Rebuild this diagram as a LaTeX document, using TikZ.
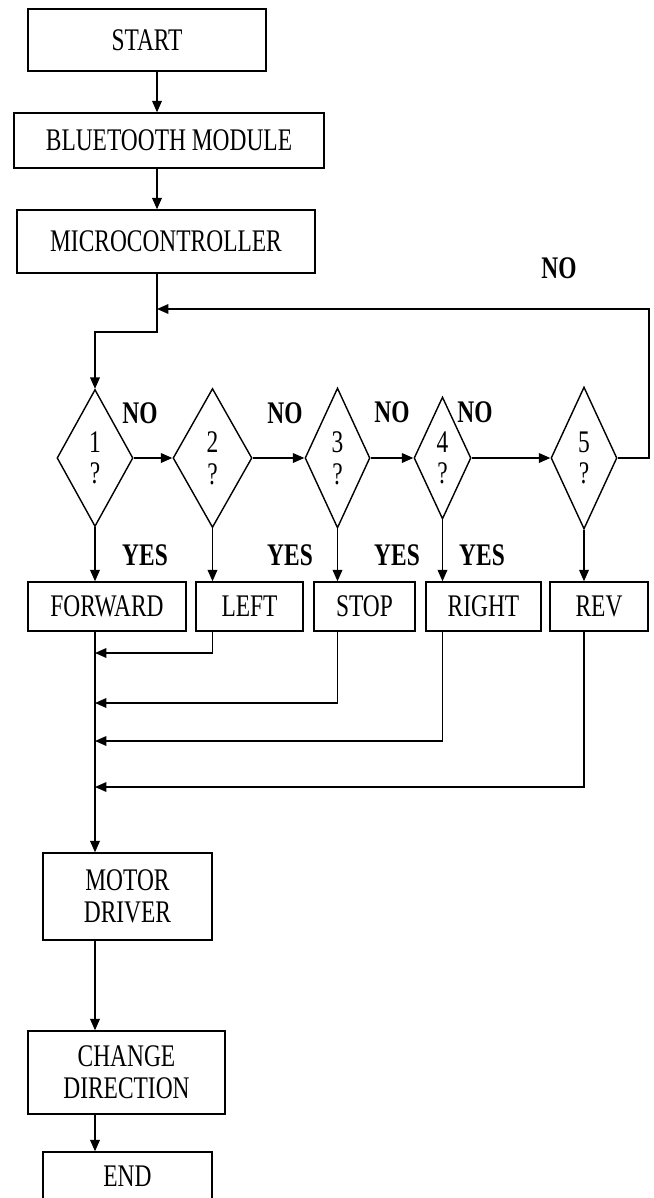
\documentclass[tikz,border=0pt]{standalone}
\usepackage{fontspec}
\setmainfont{Liberation Serif}[FakeStretch=0.745]
\usetikzlibrary{shapes.geometric,arrows.meta}
\begin{document}
\begin{tikzpicture}[every node/.style={font=\fontsize{17.9}{18}\selectfont},
  box/.style={draw, line width=0.8pt, align=center, inner sep=0pt},
  decide/.style={draw, diamond, aspect=0.4, line width=0.8pt, align=center, inner sep=0pt},
  tag/.style={font=\fontsize{17.9}{18}\selectfont\bfseries},
  wire/.style={line width=0.8pt},
  flow/.style={line width=0.8pt, -{Triangle[length=6.5pt,width=5.5pt]}}]
  \useasboundingbox (0,0) rectangle (13.08,-23.96);

  \node[box, minimum width=4.76cm, minimum height=1.24cm] (start) at (2.94,-0.80) {START};
  \node[box, minimum width=6.20cm, minimum height=1.10cm] (bt) at (3.38,-2.81) {BLUETOOTH MODULE};
  \node[box, minimum width=5.96cm, minimum height=1.26cm] (mcu) at (3.32,-4.83) {MICROCONTROLLER};

  \node[decide, minimum width=1.52cm, minimum height=2.74cm] (d1) at (1.90,-9.16) {1\\?};
  \node[decide, minimum width=1.58cm, minimum height=2.78cm] (d2) at (4.25,-9.16) {2\\?};
  \node[decide, minimum width=1.30cm, minimum height=2.80cm] (d3) at (6.75,-9.16) {3\\?};
  \node[decide, minimum width=1.14cm, minimum height=2.44cm] (d4) at (8.85,-9.16) {4\\?};
  \node[decide, minimum width=1.32cm, minimum height=2.84cm] (d5) at (11.68,-9.16) {5\\?};

  \node[box, minimum width=3.16cm, minimum height=0.98cm] (fwd) at (2.14,-12.13) {FORWARD};
  \node[box, minimum width=2.14cm, minimum height=0.98cm] (left) at (4.99,-12.13) {LEFT};
  \node[box, minimum width=2.02cm, minimum height=0.98cm] (stop) at (7.29,-12.13) {STOP};
  \node[box, minimum width=2.30cm, minimum height=0.98cm] (right) at (9.67,-12.13) {RIGHT};
  \node[box, minimum width=1.96cm, minimum height=0.98cm] (rev) at (11.98,-12.13) {REV};

  \node[box, minimum width=3.38cm, minimum height=1.74cm] (motor) at (2.55,-17.93) {MOTOR\\DRIVER};
  \node[box, minimum width=3.94cm, minimum height=1.66cm] (change) at (2.53,-21.45) {CHANGE\\DIRECTION};
  \node[box, minimum width=3.38cm, minimum height=0.96cm] (end) at (2.55,-23.52) {END};

  \node[tag] (no1) at (2.80,-8.26) {NO};
  \node[tag] (no2) at (5.70,-8.26) {NO};
  \node[tag] (no3) at (7.84,-8.24) {NO};
  \node[tag] (no4) at (9.50,-8.24) {NO};
  \node[tag] (no5) at (11.18,-5.36) {NO};
  \node[tag] (yes1) at (2.90,-11.10) {YES};
  \node[tag] (yes2) at (5.80,-11.10) {YES};
  \node[tag] (yes3) at (7.94,-11.10) {YES};
  \node[tag] (yes4) at (9.64,-11.10) {YES};

  \coordinate (trunk) at (3.14,0);
  \coordinate (j0) at (3.14,-6.18);
  \coordinate (j1) at (3.14,-6.64);
  \coordinate (fb) at (12.98,-6.18);
  \coordinate (m1) at (1.90,-13.06);
  \coordinate (m2) at (1.90,-14.06);
  \coordinate (m3) at (1.90,-14.82);
  \coordinate (m4) at (1.90,-15.74);

  \draw[flow] (start.south -| trunk) -- (bt.north -| trunk);
  \draw[flow] (bt.south -| trunk) -- (mcu.north -| trunk);
  \draw[flow] (mcu.south -| trunk) -- (j1) -| (d1.north);
  \draw[flow] (d5.east) -| (fb) -- (j0);

  \draw[flow] (d1.east) -- (d2.west);
  \draw[flow] (d2.east) -- (d3.west);
  \draw[flow] (d3.east) -- (d4.west);
  \draw[flow] (d4.east) -- (d5.west);

  \draw[flow] (d1.south) -- (d1.south |- fwd.north);
  \draw[flow] (d2.south) -- (d2.south |- left.north);
  \draw[flow] (d3.south) -- (d3.south |- stop.north);
  \draw[flow] (d4.south) -- (d4.south |- right.north);
  \draw[flow] (d5.south) -- (d5.south |- rev.north);

  \draw[flow] (left.south -| d2) |- (m1);
  \draw[flow] (stop.south -| d3) |- (m2);
  \draw[flow] (right.south -| d4) |- (m3);
  \draw[flow] (rev.south -| d5) |- (m4);
  \draw[flow] (fwd.south -| d1) -- (motor.north -| d1);

  \draw[flow] (motor.south -| d1) -- (change.north -| d1);
  \draw[flow] (change.south -| d1) -- (end.north -| d1);
\end{tikzpicture}
\end{document}
